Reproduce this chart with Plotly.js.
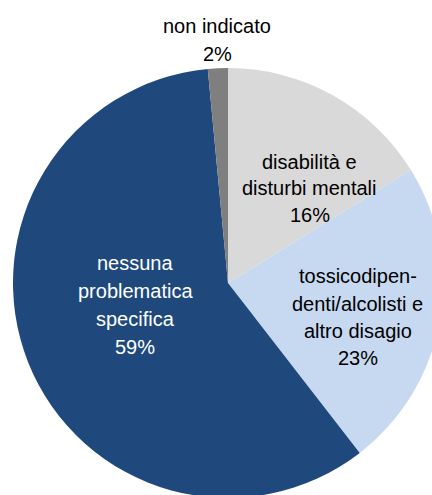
<!DOCTYPE html>
<html>
<head>
<meta charset="utf-8">
<script src="https://cdn.plot.ly/plotly-3.0.1.min.js"></script>
<style>
  html, body { margin: 0; padding: 0; overflow: hidden; background: #fff; }
  #chart { width: 456px; height: 566px; }
</style>
</head>
<body>
<div id="chart"></div>
<script>
// Data
const categories = [
  "disabilità e disturbi mentali",
  "tossicodipendenti/alcolisti e altro disagio",
  "nessuna problematica specifica",
  "non indicato"
];
const values = [16.2, 23.3, 59.0, 1.5];
const percentLabels = ["16%", "23%", "59%", "2%"];
const labelLines = [
  ["disabilità e", "disturbi mentali"],
  ["tossicodipen-", "denti/alcolisti e", "altro disagio"],
  ["nessuna", "problematica", "specifica"],
  ["non indicato"]
];
const colors = ["#D9D9D9", "#C6D9F1", "#1F497D", "#7F7F7F"];
const textColors = ["#000000", "#000000", "#FFFFFF", "#000000"];

// Label block centres in pixels (layout only)
const W = 456, H = 566;
const labelPos = [[309.5, 188], [357.5, 317], [135, 305], [217, 40]];
const lineGap = [26.5, 27, 28, 28];

const FONT = "'Liberation Sans', Arial, sans-serif";

const annotations = [];
categories.forEach((c, i) => {
  const lines = labelLines[i].concat([percentLabels[i]]);
  const n = lines.length;
  lines.forEach((t, j) => {
    const py = labelPos[i][1] + (j - (n - 1) / 2) * lineGap[i];
    annotations.push({
      text: t,
      xref: "paper", yref: "paper",
      x: labelPos[i][0] / W, y: 1 - py / H,
      xanchor: "center", yanchor: "middle",
      showarrow: false,
      align: "center",
      font: { family: FONT, size: 20, color: textColors[i] }
    });
  });
});

const trace = {
  type: "pie",
  labels: categories,
  values: values,
  sort: false,
  direction: "clockwise",
  rotation: 0,
  marker: { colors: colors, line: { width: 0 } },
  textinfo: "none",
  hoverinfo: "skip",
  domain: { x: [13 / W, 443 / W], y: [0, 1] }
};

const layout = {
  width: W, height: H,
  margin: { l: 0, r: 0, t: 0, b: 0, pad: 0 },
  showlegend: false,
  paper_bgcolor: "#ffffff",
  annotations: annotations,
  font: { family: FONT }
};

Plotly.newPlot("chart", [trace], layout, { staticPlot: true, displayModeBar: false });
</script>
</body>
</html>
